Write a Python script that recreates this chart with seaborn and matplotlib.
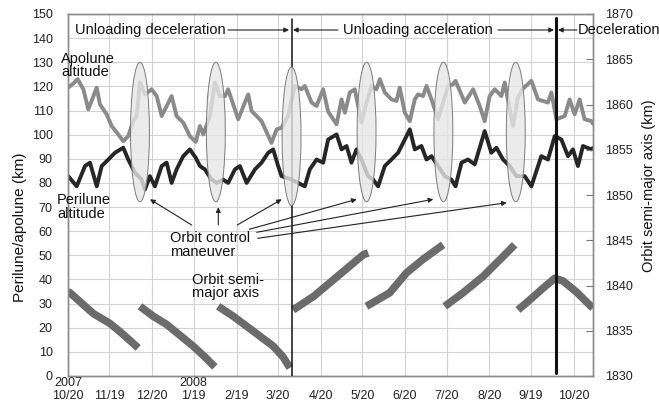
import matplotlib
matplotlib.use("Agg")
import matplotlib.pyplot as plt
import seaborn as sns
import pandas as pd
from matplotlib.patches import Ellipse

# ---------------- data (days since 2007-10-20) ----------------
tick_days = [0, 30, 61, 91, 122, 152, 183, 213, 244, 274, 305, 335, 366]
tick_labels = ["10/20", "11/19", "12/20", "1/19", "2/19", "3/20", "4/20",
               "5/20", "6/20", "7/20", "8/20", "9/19", "10/20"]
year_labels = {0: "2007", 91: "2008"}

apo_day = [0, 3.5, 7.0, 11.1, 14.7, 20.8, 23.1, 28.0, 31.6, 36.4, 40.0, 43.6, 47.2, 49.7,
           52.1, 55.7, 60.5, 64.2, 67.8, 75.0, 78.6, 83.4, 88.2, 92.5, 95.5, 97.9, 102.7,
           106.3, 109.9, 113.6, 115.9, 123.2, 130.4, 132.9, 140.1, 147.3, 151.0, 154.6,
           159.3, 164.2, 169.0, 171.4, 176.3, 179.9, 184.7, 188.3, 194.4, 198.0, 200.4,
           204.0, 207.6, 210.0, 212.4, 216.1, 219.7, 223.3, 225.7, 229.3, 234.1, 237.8,
           240.1, 243.8, 247.4, 251.0, 253.4, 257.0, 259.5, 263.1, 267.9, 271.5, 275.1,
           278.7, 280.5, 287.2, 293.2, 298.0, 301.6, 305.2, 308.9, 313.7, 316.1, 319.7,
           322.1, 325.5, 329.1, 335.4, 340.2, 347.4, 349.9, 353.5, 359.5, 363.1, 366.7,
           370.3, 373.9, 378.8, 380]
apo_km = [119.5, 121, 123, 118.8, 110.5, 119.5, 112.6, 108.4, 103.6, 100.1, 97.3, 99.4, 105.6, 107.7,
          121.6, 116.7, 118.8, 116, 107.7, 116, 107.7, 105, 99.4, 97, 103.6, 100.1, 107.7,
          121.6, 116, 116, 118.8, 106.4, 116.7, 109.8, 105.6, 96.6, 102.2, 102.9,
          107.7, 120.2, 118.8, 120.2, 113.3, 111.9, 118.8, 109.5, 104.3, 114.6, 109.1,
          117.5, 118.8, 111.9, 105, 113.3, 120.2, 118.8, 123, 117.5, 114.6, 114,
          119.5, 109.1, 105.6, 114.6, 116.7, 116, 120.2, 114.6, 106.4, 113.3, 120.2,
          120.9, 122.3, 113.3, 118.8, 111.9, 105.6, 116, 118.8, 116, 121.6, 110.5,
          103.6, 115, 119, 122.3, 114.6, 113.3, 117.5, 106.4, 107.7, 114.6, 108.4,
          114.6, 106.4, 105.6, 104.5]

peri_day = [0.2, 6.3, 12.3, 15.9, 20.8, 24.4, 29.2, 34.0, 40.0, 43.6, 48.5, 53.3, 55.7,
            59.3, 62.9, 67.8, 71.4, 75.0, 78.6, 83.4, 88.2, 92.5, 95.5, 99.1, 103.9, 107.6,
            112.3, 115.9, 120.8, 124.4, 129.3, 135.3, 140.1, 144.9, 148.5, 152.1, 154.6,
            161.8, 166.6, 171.4, 175.0, 179.9, 184.7, 188.3, 194.4, 198.0, 201.6, 205.2,
            208.8, 212.4, 217.2, 220.8, 224.5, 229.3, 234.1, 238.9, 243.8, 247.4, 251.0,
            255.8, 259.5, 263.1, 267.9, 272.7, 277.5, 280.5, 284.8, 289.5, 294.4, 301.6,
            306.4, 310.1, 314.9, 319.7, 324.6, 330.6, 335.4, 342.6, 347.4, 352.3, 357.1,
            361.9, 365.5, 369.1, 372.7, 378.8, 380]
peri_km = [82.8, 78.6, 87, 88.4, 78.6, 87, 89.7, 92.5, 94.6, 89.7, 84.2, 81.4, 77.3,
           82.8, 78.6, 87, 88.4, 80, 85.6, 91.1, 93.9, 90.4, 87, 85.6, 81.4, 80,
           81.4, 80, 85.6, 87, 80, 85.6, 88.4, 92.5, 93.9, 87, 82.8,
           81.4, 80, 78.6, 85.6, 89.7, 88.4, 98, 100.1, 93.9, 95.3, 88.4,
           93.9, 89.7, 82.8, 81.4, 78.6, 87, 89.7, 92.5, 98, 102.2, 93.9,
           95.3, 89.7, 91.1, 87, 82.8, 81.4, 78.6, 88.4, 89.7, 87.7, 101.5,
           92.5, 94.6, 89.7, 87, 82.8, 82.8, 78.6, 91.1, 89.7, 99.4, 98,
           91.1, 93.9, 87, 95.3, 93.9, 94.5]

# orbit semi-major axis arcs (right axis, km)
sma_day = [
    [0, 1.4, 18.3, 30.4, 37.6, 47.2, 50.8],
    [52.1, 61.7, 71.4, 81.0, 90.6, 99.1, 106.3],
    [108.7, 119.6, 129.3, 138.9, 148.5, 155.7, 160.6],
    [162.9, 177.8, 189.5, 213.7, 217.3],
    [216.0, 232.9, 245.0, 257.0, 271.5],
    [272.7, 286.0, 300.4, 314.9, 323.3],
    [325.7, 334.2, 343.8, 352.3, 358.3, 367.9, 379.9],
]
sma_km = [
    [1839.3, 1839.2, 1836.9, 1835.8, 1834.9, 1833.6, 1833.1],
    [1837.7, 1836.6, 1835.7, 1834.5, 1833.3, 1832.1, 1831.0],
    [1837.7, 1836.6, 1835.5, 1834.4, 1833.3, 1832.1, 1830.9],
    [1837.3, 1838.8, 1840.3, 1843.4, 1843.6],
    [1837.7, 1839.2, 1841.4, 1842.9, 1844.5],
    [1837.7, 1839.2, 1841.0, 1843.2, 1844.5],
    [1837.3, 1838.4, 1839.7, 1840.8, 1840.5, 1839.3, 1837.5],
]

maneuver_days = [52.1, 107.0, 161.8, 216.1, 271.7, 324.1]
maneuver_top = [130, 130, 128, 130, 130, 130]
maneuver_bottom = [72.2, 72.2, 70.6, 72.2, 72.2, 72.2]
phase_boundaries = [161.8, 353.0]

# ---------------- figure ----------------
sns.set_theme(style="white")
plt.rcParams["font.family"] = ["Liberation Sans", "DejaVu Sans"]

W, H = 659, 404
fig = plt.figure(figsize=(W / 100, H / 100), dpi=100)
ax = fig.add_axes([68 / W, 1 - 376 / H, 525 / W, 362 / H])
ax2 = ax.twinx()

def P(x, y):
    return (x / W, 1 - y / H)

sns.lineplot(x=apo_day, y=apo_km, ax=ax, color="#8a8a8a", lw=2.8, sort=False,
             estimator=None, zorder=2)
sns.lineplot(x=peri_day, y=peri_km, ax=ax, color="#262626", lw=2.8, sort=False,
             estimator=None, zorder=2)

rows = []
for i, (d, k) in enumerate(zip(sma_day, sma_km)):
    for dd, kk in zip(d, k):
        rows.append({"day": dd, "km": kk, "arc": i})
sma_df = pd.DataFrame(rows)
sns.lineplot(data=sma_df, x="day", y="km", units="arc", estimator=None, sort=False,
             ax=ax2, color="#6b6b6b", lw=5.5, zorder=2, solid_capstyle="butt")

ax.set_xlim(0, 380)
ax.set_ylim(0, 150)
ax2.set_ylim(1830, 1870)
ax.set_xticks(tick_days)
ax.set_xticklabels(tick_labels)
ax.set_yticks(range(0, 151, 10))
ax2.set_yticks(range(1830, 1871, 5))
ax.set_xlabel("")
ax.set_ylabel("")
ax2.set_xlabel("")
ax2.set_ylabel("")

ax.grid(True, color="#d2d2d2", lw=0.8)
ax.set_axisbelow(True)
for a in (ax, ax2):
    for s in a.spines.values():
        s.set_color("#8c8c8c")
        s.set_linewidth(1.0)

ax.tick_params(axis="y", length=0, pad=11, labelsize=9, labelcolor="#222222")
ax.tick_params(axis="x", direction="in", length=4, width=0.8, color="#777777",
               pad=10, labelsize=9, labelcolor="#222222")
ax2.tick_params(axis="y", direction="in", length=5, width=0.8, color="#777777",
                pad=8.5, labelsize=9, labelcolor="#222222")

xt = ax.get_xaxis_transform()
for d, y in year_labels.items():
    ax.text(d, (376 - 382.5) / 362, y, transform=xt, ha="center", va="center",
            fontsize=9, color="#222222")

# maneuver ellipses (on top axes so they veil the curves)
for d, top, bot in zip(maneuver_days, maneuver_top, maneuver_bottom):
    e = Ellipse((d, (top + bot) / 2), width=13.7, height=top - bot,
                transform=ax.transData, facecolor="#e6e6e6", alpha=0.8,
                edgecolor="none", zorder=5)
    ax2.add_patch(e)
    e2 = Ellipse((d, (top + bot) / 2), width=13.7, height=top - bot,
                 transform=ax.transData, facecolor="none",
                 edgecolor="#7a7a7a", lw=0.7, zorder=6)
    ax2.add_patch(e2)

ax2.axvline(phase_boundaries[0], ymin=0, ymax=148 / 150, color="#111111", lw=1.1, zorder=4)
ax2.axvline(phase_boundaries[1], ymin=0.008, ymax=148.5 / 150, color="#111111", lw=2.2, zorder=4)

# ---------------- annotations ----------------
tk = dict(fontsize=10.5, color="#111111", zorder=10)
fig.text(*P(75, 30), "Unloading deceleration", ha="left", va="center", **tk)
fig.text(*P(343, 30), "Unloading acceleration", ha="left", va="center", **tk)
fig.text(*P(578, 30), "Deceleration", ha="left", va="center", **tk)

fig.text(*P(61, 59), "Apolune", ha="left", va="center", **tk)
fig.text(*P(61, 72), "altitude", ha="left", va="center", **tk)
fig.text(*P(57, 200), "Perilune", ha="left", va="center", **tk)
fig.text(*P(57, 214), "altitude", ha="left", va="center", **tk)
fig.text(*P(170, 238), "Orbit control", ha="left", va="center", **tk)
fig.text(*P(170, 252), "maneuver", ha="left", va="center", **tk)
fig.text(*P(192, 280), "Orbit semi-", ha="left", va="center", **tk)
fig.text(*P(192, 293), "major axis", ha="left", va="center", **tk)

fig.text(*P(20, 227), "Perilune/apolune (km)", rotation=90, ha="center", va="center",
         fontsize=11, color="#111111")
fig.text(*P(649, 186), "Orbit semi-major axis (km)", rotation=90, ha="center",
         va="center", fontsize=10.5, color="#111111")

aprops = dict(arrowstyle="-|>", color="#222222", lw=0.8, mutation_scale=7,
              shrinkA=0, shrinkB=0)
arrows = [
    ((228, 30), (289, 30)), ((338, 30), (293, 30)),
    ((498, 30), (554, 30)), ((577, 30), (558, 30)),
    ((191.7, 225), (150, 199.3)), ((218.3, 225), (218.3, 207.3)),
    ((237.3, 225), (281.7, 199.3)), ((249.3, 229.3), (356.7, 199.3)),
    ((256.7, 232.3), (433.3, 199.3)), ((257.7, 238.3), (506.7, 202.7)),
]
for tail, head in arrows:
    ax2.annotate("", xy=P(*head), xytext=P(*tail), xycoords="figure fraction",
                 textcoords="figure fraction", arrowprops=aprops, zorder=10,
                 annotation_clip=False)

fig.savefig("out.png", dpi=100)
